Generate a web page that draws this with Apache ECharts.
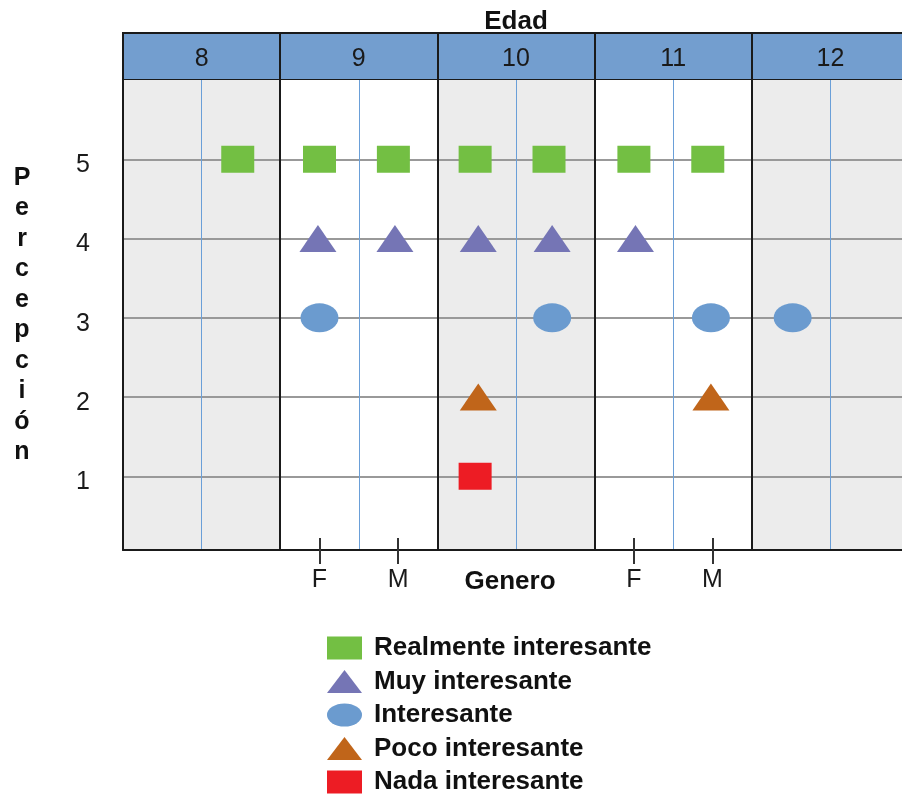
<!DOCTYPE html>
<html>
<head>
<meta charset="utf-8">
<title>Percepción por edad y género</title>
<script src="https://cdn.jsdelivr.net/npm/echarts@6/dist/echarts.min.js"></script>
<style>
  html, body { margin: 0; padding: 0; background: #fff; }
  #chart { width: 902px; height: 794px; }
</style>
</head>
<body>
<div id="chart"></div>
<script>
// categorias
var edades = ['8', '9', '10', '11', '12'];
// una mitad F / M por edad, solo 9 y 11 llevan etiqueta
var generos = ['', '', 'F', 'M', '', '', 'F', 'M', '', ''];

var realmenteX = [8.23, 8.75, 9.22, 9.74, 10.21, 10.75, 11.22];
var realmenteY = [5, 5, 5, 5, 5, 5, 5];
var muyX = [8.74, 9.23, 9.76, 10.23, 10.76];
var muyY = [4, 4, 4, 4, 4];
var interesanteX = [8.75, 10.23, 11.24, 11.76];
var interesanteY = [3, 3, 3, 3];
var pocoX = [9.76, 11.24];
var pocoY = [2, 2];
var nadaX = [9.74];
var nadaY = [1];

var font = 'Liberation Sans, Arial, sans-serif';
var negro = '#1a1a1a';
var elipse = 'path://M0,15 A19,15 0 1,1 38,15 A19,15 0 1,1 0,15 Z';
var anchoGrid = 786;   // la columna 12 sigue fuera del lienzo

function puntos(xs, ys) {
    return xs.map(function (x, i) { return [x, ys[i]]; });
}

function soloGenero(index) {
    return generos[index] !== '';
}

var generoCats = generos.map(function (g, i) { return 'g' + i; });

var chart = echarts.init(document.getElementById('chart'), null, {renderer: 'canvas'});

var seriesInfo = [
    {name: 'Realmente interesante', data: puntos(realmenteX, realmenteY), symbol: 'rect', size: [33, 27], color: '#73bf43'},
    {name: 'Muy interesante', data: puntos(muyX, muyY), symbol: 'triangle', size: [37, 27], color: '#7575b5'},
    {name: 'Interesante', data: puntos(interesanteX, interesanteY), symbol: elipse, size: [38, 29], color: '#6b9bcf'},
    {name: 'Poco interesante', data: puntos(pocoX, pocoY), symbol: 'triangle', size: [37, 27], color: '#c0651a'},
    {name: 'Nada interesante', data: puntos(nadaX, nadaY), symbol: 'rect', size: [33, 27], color: '#ed1c24'}
];

var option = {
    animation: false,
    backgroundColor: '#fff',
    textStyle: {fontFamily: font},
    grid: [
        {left: 123, width: anchoGrid, top: 80, bottom: 244, outerBoundsMode: 'none', containLabel: false},
        {left: 123, width: anchoGrid, top: 33, height: 47, outerBoundsMode: 'none', containLabel: false,
         show: true, backgroundColor: '#739ecf', borderColor: negro, borderWidth: 2}
    ],
    legend: {
        orient: 'vertical',
        left: 327,
        top: 635,
        height: 200,
        padding: 0,
        itemWidth: 35,
        itemHeight: 23,
        itemGap: 7.5,
        symbolKeepAspect: false,
        textStyle: {fontSize: 26, fontWeight: 'bold', color: '#111', fontFamily: font,
                    lineHeight: 23, padding: [0, 0, 0, 7]},
        data: seriesInfo.map(function (s) {
            return {name: s.name, icon: s.symbol};
        })
    },
    xAxis: [
        // fondo gris / blanco por edad
        {gridIndex: 0, type: 'category', data: edades, z: 0,
         axisLine: {show: false}, axisTick: {show: false}, axisLabel: {show: false},
         splitArea: {show: true, areaStyle: {color: ['#ececec', '#ffffff']}}},
        // lineas azules entre F y M
        {gridIndex: 0, type: 'category', data: generoCats, z: 1,
         axisLine: {show: false}, axisTick: {show: false}, axisLabel: {show: false},
         splitLine: {show: true, lineStyle: {color: '#6a9fd8', width: 1}}},
        // lineas negras entre edades
        {gridIndex: 0, type: 'category', data: edades, z: 2,
         axisLine: {show: false}, axisTick: {show: false}, axisLabel: {show: false},
         splitLine: {show: true, lineStyle: {color: negro, width: 2}}},
        // eje inferior con F / M
        {gridIndex: 0, type: 'category', data: generoCats, z: 2,
         position: 'bottom',
         axisLine: {show: true, lineStyle: {color: negro, width: 2}},
         axisTick: {show: true, alignWithLabel: true, interval: soloGenero, length: 14, lineStyle: {color: '#333', width: 2}},
         axisLabel: {interval: soloGenero, fontSize: 25, color: negro, margin: 18,
                     formatter: function (v, i) { return generos[i]; }},
         splitLine: {show: false},
         name: 'Genero', nameLocation: 'middle', nameGap: 19, nameMoveOverlap: false,
         nameTextStyle: {fontSize: 26, fontWeight: 'bold', color: '#111', padding: [0, 12, 0, 0]}},
        // marcas hacia dentro
        {gridIndex: 0, type: 'category', data: generoCats, z: 2,
         position: 'bottom',
         axisLine: {show: false},
         axisTick: {show: true, inside: true, alignWithLabel: true, interval: soloGenero, length: 12, lineStyle: {color: '#333', width: 2}},
         axisLabel: {show: false}, splitLine: {show: false}},
        // eje de datos
        {gridIndex: 0, type: 'value', min: 7.5, max: 12.5, show: false},
        // cabecera Edad
        {gridIndex: 1, type: 'category', data: edades, position: 'top', z: 2,
         axisLine: {show: false}, axisTick: {show: false},
         axisLabel: {inside: true, fontSize: 25, color: negro, margin: 14},
         splitLine: {show: true, lineStyle: {color: negro, width: 2}},
         name: 'Edad', nameLocation: 'middle', nameGap: -2, nameMoveOverlap: false,
         nameTextStyle: {fontSize: 26, fontWeight: 'bold', color: '#111'}}
    ],
    yAxis: [
        {gridIndex: 0, type: 'value', min: 0.07, max: 6, minInterval: 1, maxInterval: 1, z: 1,
         axisLine: {show: true, lineStyle: {color: negro, width: 2}},
         axisTick: {show: false},
         axisLabel: {color: negro, margin: 33,
                     formatter: function (v) { return (v >= 1 && v <= 5 && Math.round(v) === v) ? '{n|' + v + '}' : ''; },
                     rich: {n: {fontSize: 25, color: negro, fontFamily: font, padding: [12, 0, 0, 0]}}},
         splitLine: {show: true, showMinLine: false, showMaxLine: false, lineStyle: {color: '#999', width: 2}},
         name: 'Percepción'.split('').join('\n'),
         nameLocation: 'middle', nameRotate: 0, nameGap: 101, nameMoveOverlap: false,
         nameTextStyle: {fontSize: 25, fontWeight: 'bold', color: '#111', align: 'center', lineHeight: 30.5}},
        {gridIndex: 1, type: 'value', show: false}
    ],
    series: seriesInfo.map(function (s) {
        return {
            name: s.name,
            type: 'scatter',
            xAxisIndex: 5,
            yAxisIndex: 0,
            z: 3,
            symbol: s.symbol,
            symbolSize: s.size,
            itemStyle: {color: s.color, opacity: 1},
            emphasis: {disabled: true},
            data: s.data
        };
    })
};

chart.setOption(option);
</script>
</body>
</html>
